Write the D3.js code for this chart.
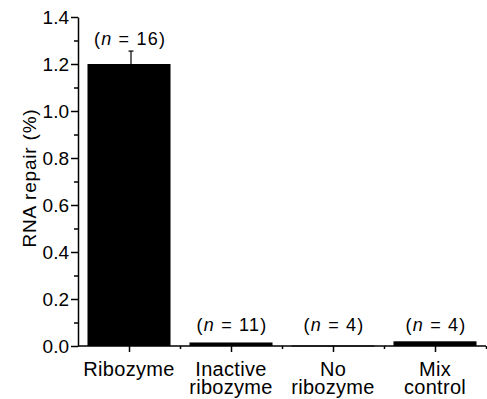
<!DOCTYPE html>
<html>
<head>
<meta charset="utf-8">
<script src="https://cdn.jsdelivr.net/npm/d3@7"></script>
<style>
  body { margin: 0; background: #fff; }
  text { font-family: "Liberation Sans", Arial, Helvetica, sans-serif; fill: #000; }
</style>
</head>
<body>
<svg id="chart" width="487" height="399"></svg>
<script>
// 数据
const categories = ['Ribozyme', 'Inactive ribozyme', 'No ribozyme', 'Mix control'];
const labelLines = [['Ribozyme'], ['Inactive', 'ribozyme'], ['No', 'ribozyme'], ['Mix', 'control']];
const values = [1.2, 0.015, 0.002, 0.02];
const errors = [0.055, 0, 0, 0];
const nCounts = [16, 11, 4, 4];
const yTicks = [0, 0.2, 0.4, 0.6, 0.8, 1.0, 1.2, 1.4];
const yMinor = [0.1, 0.3, 0.5, 0.7, 0.9, 1.1, 1.3];

const svg = d3.select('#chart');

const x = d3.scaleBand()
  .domain(categories)
  .range([78, 486])
  .paddingInner(0.186)
  .paddingOuter(0.093);

const y = d3.scaleLinear().domain([0, 1.4]).range([346, 17]);

// bars
svg.append('g')
  .selectAll('rect')
  .data(categories)
  .join('rect')
    .attr('x', d => x(d))
    .attr('width', x.bandwidth())
    .attr('y', (d, i) => y(values[i]))
    .attr('height', (d, i) => Math.max(1, y(0) - y(values[i])))
    .attr('fill', '#000');

// error bar (only upper)
categories.forEach((c, i) => {
  if (!errors[i]) return;
  const cx = x(c) + x.bandwidth() / 2 + 2;
  svg.append('line')
    .attr('x1', cx).attr('x2', cx)
    .attr('y1', y(values[i])).attr('y2', y(values[i] + errors[i]))
    .attr('stroke', '#000').attr('stroke-width', 1.2);
  svg.append('line')
    .attr('x1', cx - 2.5).attr('x2', cx + 2.5)
    .attr('y1', y(values[i] + errors[i])).attr('y2', y(values[i] + errors[i]))
    .attr('stroke', '#000').attr('stroke-width', 1.2);
});

// n labels
const nText = svg.append('g')
  .selectAll('text')
  .data(categories)
  .join('text')
    .attr('x', d => x(d) + x.bandwidth() / 2 + 1)
    .attr('y', (d, i) => i === 0 ? 45 : 331)
    .attr('text-anchor', 'middle')
    .style('font-size', '18px')
    .style('letter-spacing', '1.2px');
nText.append('tspan').text('(');
nText.append('tspan').style('font-style', 'italic').text('n');
nText.append('tspan').text((d, i) => ' = ' + nCounts[i] + ')');

// y axis
const yAxis = svg.append('g').attr('transform', 'translate(78,0)')
  .call(d3.axisLeft(y).tickValues(yTicks).tickSize(7).tickSizeOuter(0).tickPadding(2)
    .tickFormat(d3.format('.1f')));
svg.append('g').attr('transform', 'translate(78,0)')
  .call(d3.axisLeft(y).tickValues(yMinor).tickSize(4).tickSizeOuter(0).tickFormat(''))
  .select('.domain').remove();

yAxis.selectAll('text').style('font-size', '19px').attr('dy', '0.36em');

// x axis
const centers = categories.map(c => x(c) + x.bandwidth() / 2);
const bounds = categories.slice(1).map(c => x(c) - x.step() * x.paddingInner() / 2);
bounds.push(486);
const xPos = d3.scaleLinear().domain([0, 487]).range([0, 487]);
svg.append('g').attr('transform', 'translate(0,346)')
  .call(d3.axisBottom(xPos).tickValues(centers).tickSize(6).tickSizeOuter(0).tickFormat(''))
  .select('.domain').attr('d', 'M78,0H486');
svg.append('g').attr('transform', 'translate(0,346)')
  .call(d3.axisBottom(xPos).tickValues(bounds).tickSize(3).tickFormat(''))
  .select('.domain').remove();

svg.selectAll('.domain, .tick line').attr('stroke', '#000').attr('stroke-width', 1.5);

// category labels
const catText = svg.append('g')
  .selectAll('text')
  .data(categories)
  .join('text')
    .attr('x', d => x(d) + x.bandwidth() / 2)
    .attr('y', 375.5)
    .attr('text-anchor', 'middle')
    .style('font-size', '20px')
    .style('letter-spacing', '0.3px');
catText.selectAll('tspan')
  .data((d, i) => labelLines[i])
  .join('tspan')
    .attr('x', function() { return this.parentNode.getAttribute('x'); })
    .attr('dy', (d, j) => j === 0 ? 0 : 18.5)
    .text(d => d);

// y label
svg.append('text')
  .attr('transform', 'translate(36,178) rotate(-90)')
  .attr('text-anchor', 'middle')
  .style('font-size', '19px')
  .style('letter-spacing', '0.8px')
  .text('RNA repair (%)');
</script>
</body>
</html>
